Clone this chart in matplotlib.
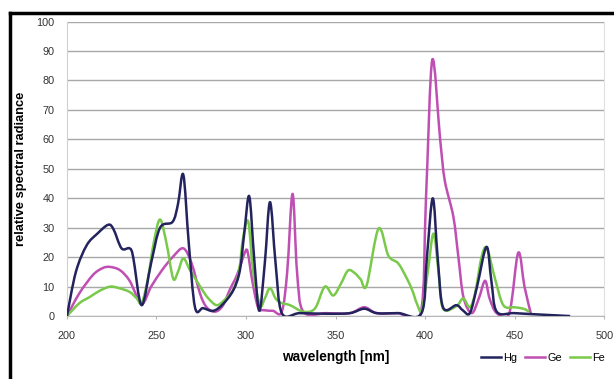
import numpy as np
import matplotlib.pyplot as plt
from matplotlib.lines import Line2D
from matplotlib.path import Path
from matplotlib.patches import PathPatch

plt.rcParams['font.family'] = ['Liberation Sans', 'DejaVu Sans']

# Hg lamp
hg_nm = [200, 205, 211, 217, 223, 226, 230.5, 235, 237, 241.7, 247, 252, 259, 262, 265,
         268, 271.5, 276, 281.7, 287, 292.9, 296.6, 299, 301.8, 304.5, 307.4, 310.5, 313.4,
         316.5, 320, 330, 345, 358, 366, 373, 385, 398, 401, 404.3, 407, 410, 417.5, 421,
         425, 429, 434.3, 437, 440, 450, 465, 481]
hg_val = [0, 15, 24, 28, 31, 29.5, 23, 23, 20, 3.7, 18, 30, 32, 38, 48,
          25, 3, 2.7, 1.8, 4, 8.8, 15.6, 28, 40.7, 20, 1.8, 18, 38.7,
          18, 1, 1, 0.8, 1, 2.5, 1, 1, 1, 20, 40, 20, 3, 3.7, 2,
          1, 10, 23.5, 12, 1.5, 1, 0.5, 0]

# Ge lamp
ge_nm = [200, 207, 214.6, 220, 224, 229.6, 235, 241.7, 247, 253, 259, 265, 269.7, 274.3,
         278, 282.7, 287, 291, 295, 299.5, 301, 303.5, 306.7, 310, 315, 320, 323, 326,
         328.5, 332, 345, 358, 366, 373, 385, 397.5, 400.5, 404, 408.4, 411, 415.8, 418.6,
         421.4, 426, 430, 433.5, 436, 440, 447, 452, 455.5, 459]
ge_val = [0, 7.8, 14, 16.3, 16.7, 15.6, 12, 4.3, 10, 15.5, 20, 23, 17.8, 7.7,
          3, 1.5, 3.5, 9, 14, 21.8, 21.5, 12, 3, 2, 1.8, 1.5, 15, 41.5,
          15, 1.5, 1, 1, 3, 1, 1, 1, 40, 87, 60, 46, 33.7, 20,
          6.5, 1, 6, 12, 6, 1, 1, 21.5, 10, 1]

# Fe lamp
fe_nm = [200, 207, 212.8, 218, 224, 229, 235, 239, 241.7, 245, 248.5, 252, 255.6, 259.3,
         262, 265, 268.7, 272.4, 276, 279, 283.6, 288, 292.9, 296, 298.5, 301.3, 304,
         307.8, 310.5, 313.4, 316.5, 319.5, 324.6, 332, 338.5, 344, 348.7, 353, 357, 360.9,
         364, 367.4, 374, 379.5, 385, 389.8, 393, 395.4, 398.2, 401.5, 404.7, 407.5, 410,
         417.5, 421.3, 425, 428, 431.5, 434.5, 439, 443.7, 450, 455, 458]
fe_val = [0, 4.4, 6.5, 8.5, 10, 9.5, 8.2, 6, 4.4, 12, 25, 32.8, 24.7, 12.8,
          15, 19.6, 15.6, 12, 8.5, 6, 3.7, 5.5, 9, 15, 27, 32, 15,
          3.7, 6, 9.5, 6, 4.5, 3.7, 1.5, 2.6, 10, 7, 11, 15.5, 14.5,
          12.5, 10.5, 29.7, 20.5, 17.9, 12.8, 8.5, 4.3, 2, 15, 28, 15, 2.6,
          3.4, 6, 3, 8, 20, 23, 12.8, 3.7, 3, 2.5, 1.5]

series = [('Hg', hg_nm, hg_val, '#23235e', 3),
          ('Ge', ge_nm, ge_val, '#c04fb4', 2),
          ('Fe', fe_nm, fe_val, '#79c94b', 2.5)]

x_ticks = [200, 250, 300, 350, 400, 450, 500]
y_ticks = list(range(0, 101, 10))


def smooth_path(xs, ys):
    # smoothed line through the points (cubic bezier, catmull-rom style)
    p = np.column_stack([xs, ys]).astype(float)
    ext = np.vstack([p[0], p, p[-1]])
    verts = [p[0]]
    codes = [Path.MOVETO]
    for i in range(len(p) - 1):
        p0, p1, p2, p3 = ext[i], ext[i + 1], ext[i + 2], ext[i + 3]
        verts += [p1 + (p2 - p0) / 6, p2 - (p3 - p1) / 6, p2]
        codes += [Path.CURVE4] * 3
    return Path(verts, codes)


fig = plt.figure(figsize=(6.14, 3.79), dpi=100, facecolor='white')
ax = fig.add_axes([0.109, 0.166, 0.875, 0.777])

handles = []
for name, xs, ys, col, z in series:
    ax.add_patch(PathPatch(smooth_path(xs, ys), fill=False, edgecolor=col,
                           lw=1.8, zorder=z, joinstyle='round'))
    handles.append(Line2D([], [], color=col, lw=1.8, label=name))

ax.set_xlim(200, 500)
ax.set_ylim(0, 100)
ax.set_xticks(x_ticks)
ax.set_yticks(y_ticks)
ax.yaxis.grid(True, color='#a8a8a8', lw=1.0)
ax.set_axisbelow(True)

ax.spines['top'].set_visible(False)
ax.spines['left'].set_color('#d0d0d0')
ax.spines['right'].set_color('#e0e0e0')
ax.spines['bottom'].set_color('#b8b8b8')
ax.tick_params(axis='y', length=0, labelsize=7.8, labelcolor='#333333', pad=9)
ax.tick_params(axis='x', length=2.5, color='#b8b8b8', labelsize=7.8,
               labelcolor='#333333', pad=8)

ax.set_xlabel('wavelength [nm]', fontsize=9.8, fontweight='bold', labelpad=7)
ax.set_ylabel('relative spectral radiance', fontsize=9.3, fontweight='bold')
ax.yaxis.set_label_coords(-0.075, 0.5)

fig.legend(handles=handles, loc='center right', bbox_to_anchor=(0.985, 0.055), ncol=3,
           frameon=False, fontsize=7.8, handlelength=1.85, handletextpad=0.15,
           columnspacing=0.8, borderaxespad=0, borderpad=0)

# black frame, left and top edges only
fig.add_artist(Line2D([0.0163, 0.0163], [0, 0.966], color='black', lw=2.5,
                      transform=fig.transFigure))
fig.add_artist(Line2D([0.0163, 1.0], [0.966, 0.966], color='black', lw=2.5,
                      transform=fig.transFigure))

plt.savefig('out.png', dpi=100)
